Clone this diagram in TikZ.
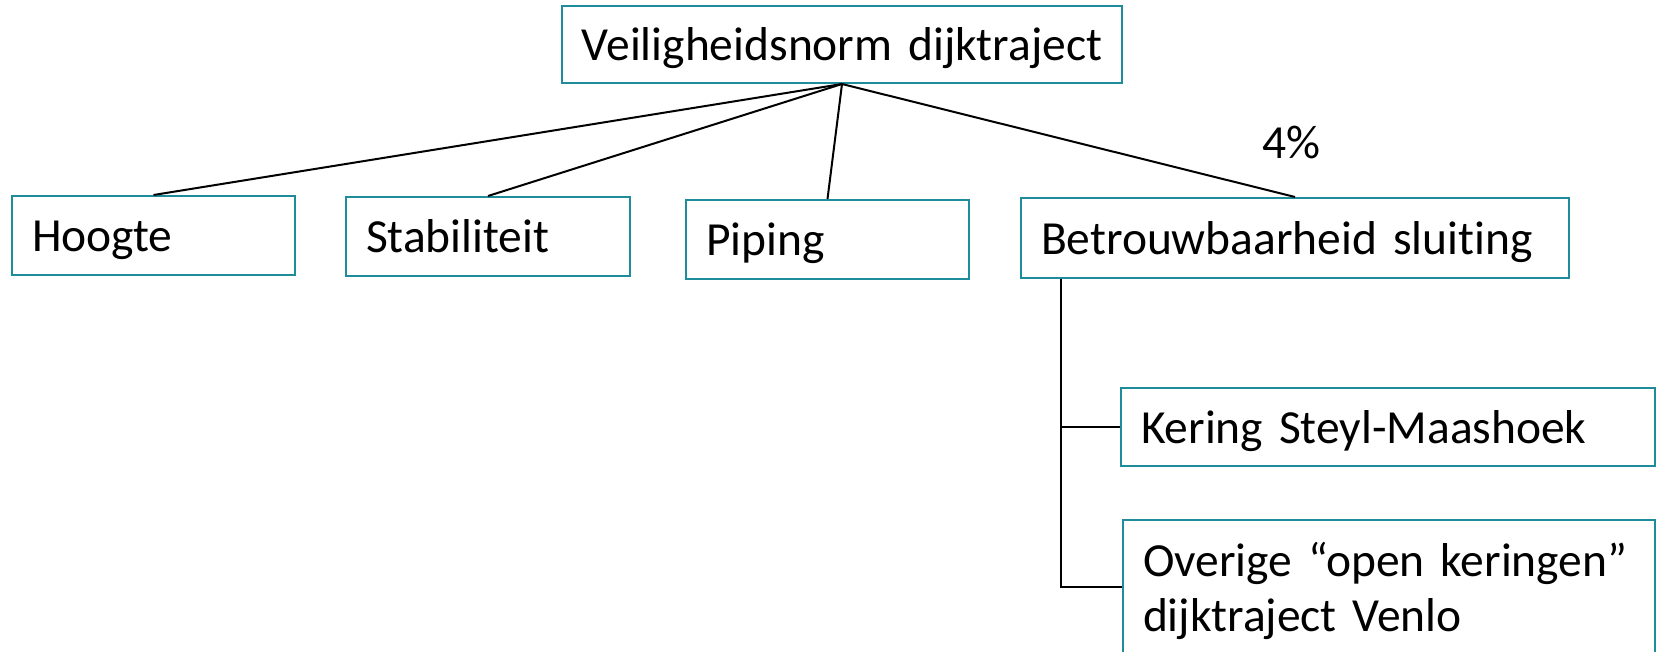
\documentclass[tikz,border=0pt]{standalone}
\usepackage{fontspec}
\setmainfont{Carlito}[Ligatures={NoCommon}]
\usetikzlibrary{calc}
\definecolor{boxteal}{RGB}{30,140,155}
\begin{document}
\begin{tikzpicture}[x=1pt,y=-1pt,
  box/.style={draw=boxteal, line width=2pt, anchor=north west, inner xsep=20pt, inner ysep=0pt, align=left, font=\fontsize{47.5}{55}\selectfont},
  onel/.style={text height=33pt, text depth=0pt},
  conn/.style={draw=black, line width=2pt}]
\useasboundingbox (0,0) rectangle (1656,652);
\clip (0,0) rectangle (1656,652);
\node[box, onel, align=center, inner xsep=0pt, text width=560pt, minimum height=77pt] (top) at (561,5) {Veiligheidsnorm dijktraject};
\node[box, onel, text width=243pt, minimum height=79pt] (hoogte) at (11,195) {Hoogte};
\node[box, onel, text width=244pt, minimum height=79pt] (stab) at (345,196) {Stabiliteit};
\node[box, onel, text width=243pt, minimum height=79pt] (piping) at (685,199) {Piping};
\node[box, onel, text width=508pt, minimum height=80pt] (betr) at (1020,197) {Betrouwbaarheid sluiting};
\node[box, onel, text width=494pt, minimum height=78pt] (kering) at (1120,387) {Kering Steyl-Maashoek};
\node[box, text width=492pt, inner ysep=21pt] (over) at (1122,519) {\rule{0pt}{35pt}Overige “open keringen”\\dijktraject Venlo};
\node[font=\fontsize{47.5}{55}\selectfont, inner sep=0pt] (pct) at (1291,142) {4\%};
\draw[conn] (top.south) -- (hoogte.north);
\draw[conn] (top.south) -- (stab.north);
\draw[conn] (top.south) -- (piping.north);
\draw[conn] (top.south) -- (betr.north);
\coordinate (sp) at ($(betr.south west)+(41,0)$);
\coordinate (ovin) at ($(over.north west)+(0,68)$);
\draw[conn] (sp) |- (kering.west);
\draw[conn] (sp) |- (ovin);
\end{tikzpicture}
\end{document}
